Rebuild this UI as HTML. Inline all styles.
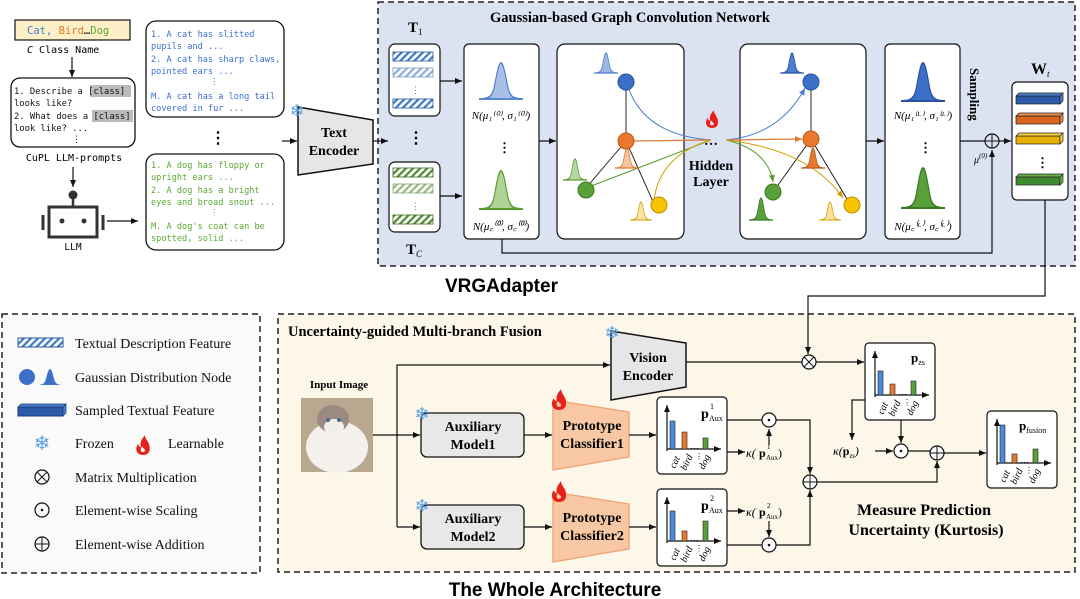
<!DOCTYPE html>
<html><head><meta charset="utf-8"><style>
body{margin:0;background:#fff}
svg{display:block}
.mono{font-family:"DejaVu Sans Mono","Liberation Mono",monospace}
.ser{font-family:"Liberation Serif",serif}
.sans{font-family:"Liberation Sans",sans-serif}
</style></head><body>
<svg width="1080" height="599" viewBox="0 0 1080 599" xmlns="http://www.w3.org/2000/svg">
<defs>
<marker id="ar" markerWidth="8" markerHeight="8" refX="7" refY="4" orient="auto" markerUnits="userSpaceOnUse"><path d="M0,1 L7,4 L0,7Z" fill="#111"/></marker>
<marker id="arB" markerWidth="8" markerHeight="8" refX="7" refY="4" orient="auto" markerUnits="userSpaceOnUse"><path d="M0,1 L7,4 L0,7Z" fill="#4a7fd0"/></marker>
<marker id="arO" markerWidth="8" markerHeight="8" refX="7" refY="4" orient="auto" markerUnits="userSpaceOnUse"><path d="M0,1 L7,4 L0,7Z" fill="#e07a30"/></marker>
<marker id="arG" markerWidth="8" markerHeight="8" refX="7" refY="4" orient="auto" markerUnits="userSpaceOnUse"><path d="M0,1 L7,4 L0,7Z" fill="#5a9a30"/></marker>
<marker id="arY" markerWidth="8" markerHeight="8" refX="7" refY="4" orient="auto" markerUnits="userSpaceOnUse"><path d="M0,1 L7,4 L0,7Z" fill="#d0a000"/></marker>
<pattern id="hb" width="5" height="5" patternUnits="userSpaceOnUse" patternTransform="rotate(45)"><rect width="5" height="5" fill="#fff"/><rect width="2.2" height="5" fill="#3c78c8"/></pattern>
<pattern id="hg" width="5" height="5" patternUnits="userSpaceOnUse" patternTransform="rotate(45)"><rect width="5" height="5" fill="#fff"/><rect width="2.2" height="5" fill="#4e8a30"/></pattern>
<path id="gs" d="M-1 0 C-0.6 0 -0.42 -0.04 -0.32 -0.3 C-0.2 -0.65 -0.12 -1 0 -1 C0.12 -1 0.2 -0.65 0.32 -0.3 C0.42 -0.04 0.6 0 1 0Z"/>
<path id="flame" d="M0 0 C-7 0 -9 -7 -5 -12 C-5 -9 -3 -8 -2 -9 C-4 -14 0 -18 2 -21 C2 -16 8 -13 7 -6 C7 -2 4 0 0 0Z M0 -3 C-3 -3 -3 -7 -1 -9 C0 -7 3 -6 2 -4Z" fill="#e8201a" fill-rule="evenodd"/>
<g id="chart">
<line x1="10" y1="54" x2="10" y2="8" stroke="#111" stroke-width="1.2" marker-end="url(#ar)"/>
<line x1="10" y1="52" x2="64" y2="52" stroke="#111" stroke-width="1.2" marker-end="url(#ar)"/>
<text x="33" y="52" font-size="9" class="ser">…</text>
<text class="ser" font-size="10" font-style="italic" transform="translate(18,72) rotate(-65)">cat</text>
<text class="ser" font-size="10" font-style="italic" transform="translate(29,74) rotate(-65)">bird</text>
<text class="ser" font-size="10" font-style="italic" transform="translate(47,73) rotate(-65)">dog</text>
<text x="38" y="62" font-size="8" class="ser">⋮</text>
</g>
</defs>

<!-- panels -->
<rect x="378" y="2" width="697" height="264" fill="#dbe3f3" stroke="#222" stroke-width="1.5" stroke-dasharray="6,4"/>
<rect x="278" y="314" width="797" height="258" fill="#fcf7e9" stroke="#222" stroke-width="1.5" stroke-dasharray="6,4"/>
<rect x="2" y="314" width="258" height="259" fill="#fafafa" stroke="#222" stroke-width="1.5" stroke-dasharray="6,4"/>

<!-- LEFT PART -->
<rect x="15" y="20" width="115" height="20" fill="#fdf0c8" stroke="#111" stroke-width="1.2"/>
<text x="27" y="34" font-size="10.5" class="mono"><tspan fill="#4a7fd0">Cat,</tspan> <tspan fill="#e07a30">Bird</tspan><tspan fill="#111">…</tspan><tspan fill="#5aa832">Dog</tspan></text>
<text x="27" y="53" font-size="10" class="mono"><tspan font-style="italic">C</tspan> Class Name</text>
<line x1="72" y1="57" x2="72" y2="77" stroke="#111" stroke-width="1.2" marker-end="url(#ar)"/>
<rect x="11" y="78" width="124" height="69" rx="9" fill="#fff" stroke="#111" stroke-width="1.3"/>
<rect x="90" y="85" width="41" height="12" fill="#bbb"/>
<rect x="92" y="110" width="41" height="12" fill="#bbb"/>
<text class="mono" font-size="8.8" fill="#111"><tspan x="14" y="94">1. Describe a [class]</tspan><tspan x="14" y="106">looks like?</tspan><tspan x="14" y="119">2. What does a [class]</tspan><tspan x="14" y="131">look like? ...</tspan><tspan x="72" y="142">⋮</tspan></text>
<text x="74" y="161" text-anchor="middle" font-size="10" class="mono">CuPL LLM-prompts</text>
<line x1="73" y1="167" x2="73" y2="187" stroke="#111" stroke-width="1.2" marker-end="url(#ar)"/>
<circle cx="73" cy="195" r="4.5" fill="#333"/>
<line x1="73" y1="199" x2="73" y2="206" stroke="#333" stroke-width="2.5"/>
<rect x="49" y="207" width="48" height="30" fill="#fff" stroke="#333" stroke-width="3"/>
<circle cx="62" cy="221" r="2.5" fill="#333"/><circle cx="84" cy="221" r="2.5" fill="#333"/>
<line x1="43" y1="215" x2="43" y2="230" stroke="#333" stroke-width="3"/>
<line x1="103" y1="215" x2="103" y2="230" stroke="#333" stroke-width="3"/>
<text x="73" y="250" text-anchor="middle" font-size="9.5" class="mono">LLM</text>
<line x1="107" y1="221" x2="138" y2="221" stroke="#111" stroke-width="1.2" marker-end="url(#ar)"/>

<rect x="146" y="21" width="138" height="96" rx="10" fill="#fff" stroke="#111" stroke-width="1.3"/>
<text class="mono" font-size="8.6" fill="#3a6fd0"><tspan x="151" y="37">1. A cat has slitted</tspan><tspan x="151" y="49">pupils and  ...</tspan><tspan x="151" y="62">2. A cat has sharp claws,</tspan><tspan x="151" y="74">pointed ears ...</tspan><tspan x="210" y="84">⋮</tspan><tspan x="151" y="99">M. A cat has a long tail</tspan><tspan x="151" y="111">covered in fur  ...</tspan></text>
<text x="210" y="143" font-size="16" class="ser" font-weight="bold">⋮</text>
<rect x="146" y="154" width="138" height="96" rx="10" fill="#fff" stroke="#111" stroke-width="1.3"/>
<text class="mono" font-size="8.6" fill="#5aa832"><tspan x="151" y="168">1. A dog has floppy or</tspan><tspan x="151" y="180">upright ears  ...</tspan><tspan x="151" y="193">2. A dog has a bright</tspan><tspan x="151" y="205">eyes and broad snout ...</tspan><tspan x="210" y="215">⋮</tspan><tspan x="151" y="229">M. A dog's coat can be</tspan><tspan x="151" y="241">spotted, solid  ...</tspan></text>
<line x1="282" y1="141" x2="297" y2="141" stroke="#111" stroke-width="1.2" marker-end="url(#ar)"/>
<path d="M298 107 L373 120 L373 164 L298 175Z" fill="#e6e6e6" stroke="#111" stroke-width="1.5"/>
<text x="297" y="117" font-size="18" fill="#5aa0e0" text-anchor="middle">❄</text>
<text class="ser" font-size="14" font-weight="bold" text-anchor="middle"><tspan x="334" y="137">Text</tspan><tspan x="334" y="155">Encoder</tspan></text>
<line x1="373" y1="141" x2="388" y2="141" stroke="#111" stroke-width="1.2" marker-end="url(#ar)"/>

<!-- TOP PANEL -->
<text x="630" y="22" text-anchor="middle" class="ser" font-size="14.5" font-weight="bold">Gaussian-based Graph Convolution Network</text>
<text x="408" y="32" class="ser" font-size="15" font-weight="bold">T<tspan font-size="9" dy="3" font-weight="normal">1</tspan></text>
<rect x="389" y="44" width="51" height="72" rx="6" fill="#fff" stroke="#111" stroke-width="1.2"/>
<g stroke="#2a5a9a" stroke-width="0.8"><rect x="393" y="52" width="40" height="9" fill="url(#hb)"/><rect x="393" y="68" width="40" height="9" fill="url(#hb)" opacity="0.6"/><rect x="393" y="99" width="40" height="9" fill="url(#hb)"/></g>
<text x="411" y="93" font-size="9" fill="#4a7fd0">⋮</text>
<text x="408" y="143" font-size="16" font-weight="bold" class="ser">⋮</text>
<rect x="389" y="162" width="51" height="70" rx="6" fill="#fff" stroke="#111" stroke-width="1.2"/>
<g stroke="#3a6a20" stroke-width="0.8"><rect x="393" y="168" width="40" height="9" fill="url(#hg)"/><rect x="393" y="184" width="40" height="9" fill="url(#hg)" opacity="0.6"/><rect x="393" y="215" width="40" height="9" fill="url(#hg)"/></g>
<text x="411" y="209" font-size="9" fill="#5aa832">⋮</text>
<text x="406" y="254" class="ser" font-size="15" font-weight="bold">T<tspan font-size="9" dy="3" font-style="italic" font-weight="normal">C</tspan></text>
<line x1="440" y1="81" x2="462" y2="81" stroke="#111" stroke-width="1.2" marker-end="url(#ar)"/>
<line x1="440" y1="196" x2="462" y2="196" stroke="#111" stroke-width="1.2" marker-end="url(#ar)"/>

<rect x="464" y="44" width="75" height="195" rx="5" fill="#fff" stroke="#111" stroke-width="1.2"/>
<use href="#gs" transform="translate(501,99) scale(22,36)" fill="#a8c0e6" stroke="#4a7fd0" stroke-width="0.05"/>
<use href="#gs" transform="translate(501,209) scale(22,38)" fill="#b0d498" stroke="#5a9a30" stroke-width="0.05"/>
<text x="501" y="119" text-anchor="middle" class="ser" font-size="11" font-style="italic">N(μ₁⁽⁰⁾, σ₁⁽⁰⁾)</text>
<text x="501" y="230" text-anchor="middle" class="ser" font-size="11" font-style="italic">N(μ꜀⁽⁰⁾, σ꜀⁽⁰⁾)</text>
<text x="498" y="152" font-size="13" class="ser" font-weight="bold">⋮</text>
<line x1="539" y1="141" x2="556" y2="141" stroke="#111" stroke-width="1.2" marker-end="url(#ar)"/>

<!-- graph 1 -->
<rect x="557" y="44" width="127" height="195" rx="8" fill="#fff" stroke="#111" stroke-width="1.2"/>
<g stroke="#111" stroke-width="0.9"><line x1="626" y1="80" x2="626" y2="141"/><line x1="626" y1="141" x2="586" y2="188"/><line x1="626" y1="141" x2="654" y2="204"/></g>
<path d="M626 80 Q640 135 711 140" fill="none" stroke="#4a7fd0" stroke-width="1"/>
<line x1="634" y1="141" x2="711" y2="140" stroke="#e07a30" stroke-width="1.2"/>
<line x1="586" y1="188" x2="711" y2="140" stroke="#5a9a30" stroke-width="1"/>
<path d="M654 200 Q660 155 711 140" fill="none" stroke="#d0a000" stroke-width="1"/>
<use href="#gs" transform="translate(606,73) scale(12,20)" fill="#9db8e0" stroke="#4a7fd0" stroke-width="0.06"/>
<use href="#gs" transform="translate(627,168) scale(12,20)" fill="#f4c4a0" stroke="#e07a30" stroke-width="0.06"/>
<use href="#gs" transform="translate(575,180) scale(12,21)" fill="#b8d8a0" stroke="#5a9a30" stroke-width="0.06"/>
<use href="#gs" transform="translate(641,220) scale(11,18)" fill="#fbe0a0" stroke="#d0a000" stroke-width="0.06"/>
<circle cx="626" cy="82" r="8" fill="#3c6fc8" stroke="#2a50a0"/>
<circle cx="626" cy="141" r="8" fill="#e8782e" stroke="#b85a1a"/>
<circle cx="586" cy="190" r="8" fill="#5aa03a" stroke="#3a7a20"/>
<circle cx="659" cy="205" r="8" fill="#f8c400" stroke="#c09000"/>

<use href="#flame" transform="translate(712,128) scale(0.85)"/>
<text x="711" y="145" text-anchor="middle" font-size="14" font-weight="bold" class="ser">…</text>
<text class="ser" font-size="14" font-weight="bold" text-anchor="middle"><tspan x="711" y="170">Hidden</tspan><tspan x="711" y="186">Layer</tspan></text>

<!-- graph 2 -->
<rect x="740" y="44" width="126" height="195" rx="8" fill="#fff" stroke="#111" stroke-width="1.2"/>
<g stroke="#111" stroke-width="0.9"><line x1="811" y1="84" x2="811" y2="139"/><line x1="811" y1="139" x2="773" y2="192"/><line x1="811" y1="139" x2="850" y2="204"/></g>
<path d="M726 140 Q780 135 805 88" fill="none" stroke="#4a7fd0" stroke-width="1" marker-end="url(#arB)"/>
<line x1="726" y1="140" x2="802" y2="139" stroke="#e07a30" stroke-width="1.2" marker-end="url(#arO)"/>
<path d="M726 140 Q768 150 773 182" fill="none" stroke="#5a9a30" stroke-width="1" marker-end="url(#arG)"/>
<path d="M726 140 Q810 150 843 198" fill="none" stroke="#d0a000" stroke-width="1" marker-end="url(#arY)"/>
<use href="#gs" transform="translate(792,73) scale(12,20)" fill="#4a7fd0" stroke="#2a50a0" stroke-width="0.06"/>
<use href="#gs" transform="translate(813,168) scale(12,20)" fill="#e8782e" stroke="#b85a1a" stroke-width="0.06"/>
<use href="#gs" transform="translate(761,220) scale(12,22)" fill="#5aa03a" stroke="#3a7a20" stroke-width="0.06"/>
<use href="#gs" transform="translate(830,220) scale(11,18)" fill="#fbe0a0" stroke="#d0a000" stroke-width="0.06"/>
<circle cx="811" cy="82" r="8" fill="#3c6fc8" stroke="#2a50a0"/>
<circle cx="811" cy="139" r="8" fill="#e8782e" stroke="#b85a1a"/>
<circle cx="773" cy="192" r="8" fill="#5aa03a" stroke="#3a7a20"/>
<circle cx="852" cy="205" r="8" fill="#f8c400" stroke="#c09000"/>
<line x1="866" y1="141" x2="884" y2="141" stroke="#111" stroke-width="1.2" marker-end="url(#ar)"/>

<rect x="885" y="44" width="75" height="195" rx="5" fill="#fff" stroke="#111" stroke-width="1.2"/>
<use href="#gs" transform="translate(923,101) scale(22,38)" fill="#3c6fc8" stroke="#2a50a0" stroke-width="0.05"/>
<use href="#gs" transform="translate(923,208) scale(22,40)" fill="#5aa03a" stroke="#3a7a20" stroke-width="0.05"/>
<text x="923" y="119" text-anchor="middle" class="ser" font-size="11" font-style="italic">N(μ₁⁽ᴸ⁾, σ₁⁽ᴸ⁾)</text>
<text x="923" y="230" text-anchor="middle" class="ser" font-size="11" font-style="italic">N(μ꜀⁽ᴸ⁾, σ꜀⁽ᴸ⁾)</text>
<text x="919" y="152" font-size="13" class="ser" font-weight="bold">⋮</text>
<line x1="960" y1="141" x2="985" y2="141" stroke="#111" stroke-width="1.2"/>
<circle cx="992" cy="141" r="7" fill="none" stroke="#111" stroke-width="1.2"/>
<line x1="985" y1="141" x2="999" y2="141" stroke="#111"/><line x1="992" y1="134" x2="992" y2="148" stroke="#111"/>
<line x1="999" y1="141" x2="1011" y2="141" stroke="#111" stroke-width="1.2" marker-end="url(#ar)"/>
<text transform="translate(970,68) rotate(90)" class="ser" font-size="13" font-weight="bold">Sampling</text>
<text x="974" y="163" class="ser" font-size="10" font-style="italic">μ<tspan font-size="7" dy="-5">(0)</tspan></text>
<polyline points="502,239 502,253 992,253 992,150" fill="none" stroke="#111" stroke-width="1.2" marker-end="url(#ar)"/>
<text x="1031" y="74" class="ser" font-size="16" font-weight="bold">W<tspan font-size="9" dy="3" font-style="italic" font-weight="normal">t</tspan></text>
<rect x="1012" y="82" width="56" height="118" rx="5" fill="#fff" stroke="#111" stroke-width="1.2"/>
<g stroke="#222" stroke-width="0.7">
<rect x="1016" y="96" width="44" height="8" fill="#2c5aa8"/><path d="M1016 96 L1019 93 L1063 93 L1060 96Z M1060 96 L1063 93 L1063 101 L1060 104Z" fill="#4a7fd0"/>
<rect x="1016" y="116" width="44" height="8" fill="#d8641e"/><path d="M1016 116 L1019 113 L1063 113 L1060 116Z M1060 116 L1063 113 L1063 121 L1060 124Z" fill="#f09050"/>
<rect x="1016" y="136" width="44" height="8" fill="#e8b000"/><path d="M1016 136 L1019 133 L1063 133 L1060 136Z M1060 136 L1063 133 L1063 141 L1060 144Z" fill="#f8d040"/>
<rect x="1016" y="177" width="44" height="8" fill="#3f8a2e"/><path d="M1016 177 L1019 174 L1063 174 L1060 177Z M1060 177 L1063 174 L1063 182 L1060 185Z" fill="#6ab04a"/>
</g>
<text x="1036" y="167" font-size="13" class="ser" font-weight="bold">⋮</text>
<text x="445" y="292" class="sans" font-size="19" font-weight="bold">VRGAdapter</text>

<!-- connector to bottom -->
<polyline points="1045,200 1045,296 808,296 808,354" fill="none" stroke="#111" stroke-width="1.2" marker-end="url(#ar)"/>

<!-- BOTTOM PANEL -->
<text x="288" y="336" class="ser" font-size="14.5" font-weight="bold">Uncertainty-guided Multi-branch Fusion</text>
<text x="339" y="388" text-anchor="middle" class="ser" font-size="11" font-weight="bold">Input Image</text>
<rect x="301" y="398" width="72" height="74" fill="#b8a890"/>
<ellipse cx="337" cy="447" rx="31" ry="26" fill="#f4f0ec"/>
<ellipse cx="333" cy="419" rx="16" ry="14" fill="#9a8a80"/>
<ellipse cx="334" cy="427" rx="10" ry="8" fill="#f2eeea"/>
<circle cx="328" cy="420" r="2" fill="#4a6a8a"/><circle cx="339" cy="420" r="2" fill="#4a6a8a"/>
<polyline points="373,435 397,435" fill="none" stroke="#111" stroke-width="1.2"/>
<polyline points="397,527 397,365 610,365" fill="none" stroke="#111" stroke-width="1.2" marker-end="url(#ar)"/>
<line x1="397" y1="435" x2="420" y2="435" stroke="#111" stroke-width="1.2" marker-end="url(#ar)"/>
<line x1="397" y1="527" x2="420" y2="527" stroke="#111" stroke-width="1.2" marker-end="url(#ar)"/>

<path d="M611 331 L686 343 L686 387 L611 400Z" fill="#e6e6e6" stroke="#111" stroke-width="1.5"/>
<text x="612" y="339" font-size="18" fill="#5aa0e0" text-anchor="middle">❄</text>
<text class="ser" font-size="14" font-weight="bold" text-anchor="middle"><tspan x="648" y="362">Vision</tspan><tspan x="648" y="380">Encoder</tspan></text>
<line x1="686" y1="362" x2="802" y2="362" stroke="#111" stroke-width="1.2"/>
<circle cx="809" cy="362" r="7" fill="#fff" stroke="#111" stroke-width="1.2"/>
<line x1="804" y1="357" x2="814" y2="367" stroke="#111"/><line x1="814" y1="357" x2="804" y2="367" stroke="#111"/>
<line x1="816" y1="362" x2="864" y2="362" stroke="#111" stroke-width="1.2" marker-end="url(#ar)"/>

<rect x="421" y="413" width="103" height="44" rx="6" fill="#e8e8e8" stroke="#111" stroke-width="1.3"/>
<text x="422" y="420" font-size="18" fill="#5aa0e0" text-anchor="middle">❄</text>
<text class="ser" font-size="14" font-weight="bold" text-anchor="middle"><tspan x="473" y="431">Auxiliary</tspan><tspan x="473" y="449">Model1</tspan></text>
<rect x="421" y="505" width="103" height="44" rx="6" fill="#e8e8e8" stroke="#111" stroke-width="1.3"/>
<text x="422" y="512" font-size="18" fill="#5aa0e0" text-anchor="middle">❄</text>
<text class="ser" font-size="14" font-weight="bold" text-anchor="middle"><tspan x="473" y="523">Auxiliary</tspan><tspan x="473" y="541">Model2</tspan></text>
<line x1="524" y1="435" x2="552" y2="435" stroke="#111" stroke-width="1.2" marker-end="url(#ar)"/>
<line x1="524" y1="527" x2="552" y2="527" stroke="#111" stroke-width="1.2" marker-end="url(#ar)"/>
<path d="M553 400 L629 412 L629 457 L553 470Z" fill="#f8c8a4" stroke="#f0a070" stroke-width="1.3"/>
<path d="M553 492 L629 504 L629 549 L553 562Z" fill="#f8c8a4" stroke="#f0a070" stroke-width="1.3"/>
<use href="#flame" transform="translate(559,410)"/>
<use href="#flame" transform="translate(559,502)"/>
<text class="ser" font-size="14" font-weight="bold" text-anchor="middle"><tspan x="592" y="430">Prototype</tspan><tspan x="592" y="448">Classifier1</tspan></text>
<text class="ser" font-size="14" font-weight="bold" text-anchor="middle"><tspan x="592" y="522">Prototype</tspan><tspan x="592" y="540">Classifier2</tspan></text>
<line x1="629" y1="435" x2="656" y2="435" stroke="#111" stroke-width="1.2" marker-end="url(#ar)"/>
<line x1="629" y1="527" x2="656" y2="527" stroke="#111" stroke-width="1.2" marker-end="url(#ar)"/>

<!-- charts -->
<g transform="translate(657,397)"><rect width="70" height="77" rx="4" fill="#fff" stroke="#111" stroke-width="1.2"/><use href="#chart"/>
<rect x="13" y="24" width="5" height="28" fill="#4a8ad8" stroke="#222" stroke-width="0.6"/><rect x="25" y="35" width="5" height="17" fill="#e8782e" stroke="#222" stroke-width="0.6"/><rect x="46" y="41" width="5" height="11" fill="#5aa03a" stroke="#222" stroke-width="0.6"/>
<text class="ser" font-weight="bold"><tspan x="44" y="21" font-size="14">p</tspan><tspan x="52" y="24" font-size="8" font-weight="normal">Aux</tspan><tspan x="53" y="12" font-size="8" font-weight="normal">1</tspan></text></g>
<g transform="translate(657,489)"><rect width="70" height="77" rx="4" fill="#fff" stroke="#111" stroke-width="1.2"/><use href="#chart"/>
<rect x="13" y="22" width="5" height="30" fill="#4a8ad8" stroke="#222" stroke-width="0.6"/><rect x="25" y="42" width="5" height="10" fill="#e8782e" stroke="#222" stroke-width="0.6"/><rect x="46" y="32" width="5" height="20" fill="#5aa03a" stroke="#222" stroke-width="0.6"/>
<text class="ser" font-weight="bold"><tspan x="44" y="21" font-size="14">p</tspan><tspan x="52" y="24" font-size="8" font-weight="normal">Aux</tspan><tspan x="53" y="12" font-size="8" font-weight="normal">2</tspan></text></g>
<g transform="translate(865,343)"><rect width="70" height="77" rx="4" fill="#fff" stroke="#111" stroke-width="1.2"/><use href="#chart"/>
<rect x="13" y="28" width="5" height="24" fill="#4a8ad8" stroke="#222" stroke-width="0.6"/><rect x="25" y="41" width="5" height="11" fill="#e8782e" stroke="#222" stroke-width="0.6"/><rect x="46" y="38" width="5" height="14" fill="#5aa03a" stroke="#222" stroke-width="0.6"/>
<text x="46" y="19" class="ser" font-size="13" font-weight="bold">p<tspan font-size="8" dy="3" font-weight="normal">zs</tspan></text></g>
<g transform="translate(987,411)"><rect width="70" height="77" rx="4" fill="#fff" stroke="#111" stroke-width="1.2"/><use href="#chart"/>
<rect x="13" y="14" width="5" height="38" fill="#4a8ad8" stroke="#222" stroke-width="0.6"/><rect x="25" y="43" width="5" height="9" fill="#e8782e" stroke="#222" stroke-width="0.6"/><rect x="46" y="38" width="5" height="14" fill="#5aa03a" stroke="#222" stroke-width="0.6"/>
<text x="32" y="19" class="ser" font-size="13" font-weight="bold">p<tspan font-size="8" dy="3" font-weight="normal">fusion</tspan></text></g>

<!-- fusion ops -->
<line x1="727" y1="420" x2="762" y2="420" stroke="#111" stroke-width="1.2"/>
<line x1="727" y1="452" x2="745" y2="452" stroke="#111" stroke-width="1.2" marker-end="url(#ar)"/>
<text class="ser" font-size="12"><tspan x="746" y="457" font-style="italic">κ(</tspan><tspan x="759" y="457" font-weight="bold">p</tspan><tspan x="766" y="460" font-size="7">Aux</tspan><tspan x="767" y="449" font-size="7">1</tspan><tspan x="778" y="457">)</tspan></text>
<line x1="769" y1="445" x2="769" y2="429" stroke="#111" stroke-width="1.2" marker-end="url(#ar)"/>
<circle cx="769" cy="420" r="7" fill="#fff" stroke="#111" stroke-width="1.2"/><circle cx="769" cy="420" r="1.3" fill="#111"/>
<polyline points="776,420 810,420 810,474" fill="none" stroke="#111" stroke-width="1.2" marker-end="url(#ar)"/>
<line x1="727" y1="511" x2="745" y2="511" stroke="#111" stroke-width="1.2" marker-end="url(#ar)"/>
<text class="ser" font-size="12"><tspan x="746" y="516" font-style="italic">κ(</tspan><tspan x="759" y="516" font-weight="bold">p</tspan><tspan x="766" y="519" font-size="7">Aux</tspan><tspan x="767" y="508" font-size="7">2</tspan><tspan x="778" y="516">)</tspan></text>
<line x1="769" y1="521" x2="769" y2="537" stroke="#111" stroke-width="1.2" marker-end="url(#ar)"/>
<line x1="727" y1="545" x2="762" y2="545" stroke="#111" stroke-width="1.2"/>
<circle cx="769" cy="545" r="7" fill="#fff" stroke="#111" stroke-width="1.2"/><circle cx="769" cy="545" r="1.3" fill="#111"/>
<polyline points="776,545 810,545 810,490" fill="none" stroke="#111" stroke-width="1.2" marker-end="url(#ar)"/>
<circle cx="810" cy="482" r="7" fill="#fff" stroke="#111" stroke-width="1.2"/>
<line x1="803" y1="482" x2="817" y2="482" stroke="#111"/><line x1="810" y1="475" x2="810" y2="489" stroke="#111"/>
<polyline points="817,482 937,482 937,461" fill="none" stroke="#111" stroke-width="1.2" marker-end="url(#ar)"/>
<polyline points="865,400 852,400 852,440" fill="none" stroke="#111" stroke-width="1.2" marker-end="url(#ar)"/>
<text x="833" y="455" class="ser" font-size="12" font-style="italic">κ(<tspan font-style="normal" font-weight="bold">p</tspan><tspan font-size="7" dy="3">zs</tspan><tspan dy="-3">)</tspan></text>
<line x1="875" y1="451" x2="893" y2="451" stroke="#111" stroke-width="1.2" marker-end="url(#ar)"/>
<line x1="901" y1="420" x2="901" y2="443" stroke="#111" stroke-width="1.2" marker-end="url(#ar)"/>
<circle cx="901" cy="451" r="7" fill="#fff" stroke="#111" stroke-width="1.2"/><circle cx="901" cy="451" r="1.3" fill="#111"/>
<line x1="908" y1="451" x2="930" y2="451" stroke="#111" stroke-width="1.2"/>
<circle cx="937" cy="453" r="7" fill="#fff" stroke="#111" stroke-width="1.2"/>
<line x1="930" y1="453" x2="944" y2="453" stroke="#111"/><line x1="937" y1="446" x2="937" y2="460" stroke="#111"/>
<line x1="944" y1="453" x2="986" y2="453" stroke="#111" stroke-width="1.2" marker-end="url(#ar)"/>
<text class="ser" font-size="16" font-weight="bold" text-anchor="middle"><tspan x="924" y="515">Measure Prediction</tspan><tspan x="926" y="535">Uncertainty (Kurtosis)</tspan></text>

<text x="555" y="596" text-anchor="middle" class="sans" font-size="19" font-weight="bold">The Whole Architecture</text>

<!-- LEGEND -->
<g class="ser" font-size="14" fill="#111">
<rect x="18" y="338" width="45" height="9" fill="url(#hb)" stroke="#2a5a9a"/>
<text x="75" y="348">Textual Description Feature</text>
<circle cx="27" cy="377" r="8" fill="#3c6fc8"/>
<use href="#gs" transform="translate(50,385) scale(14,16)" fill="#3c6fc8"/>
<text x="75" y="382">Gaussian Distribution Node</text>
<rect x="18" y="407" width="45" height="9" fill="#2c5aa8" stroke="#1a3a70"/><path d="M18 407 L21 404 L66 404 L63 407Z M63 407 L66 404 L66 413 L63 416Z" fill="#4a7fd0" stroke="#1a3a70" stroke-width="0.7"/>
<text x="75" y="415">Sampled Textual Feature</text>
<text x="42" y="450" font-size="20" fill="#5aa0e0" text-anchor="middle">❄</text>
<text x="75" y="448">Frozen</text>
<use href="#flame" transform="translate(143,455) scale(0.95)"/>
<text x="168" y="448">Learnable</text>
<circle cx="42" cy="477" r="7" fill="none" stroke="#111" stroke-width="1.2"/>
<line x1="37" y1="472" x2="47" y2="482" stroke="#111"/><line x1="47" y1="472" x2="37" y2="482" stroke="#111"/>
<text x="75" y="482">Matrix Multiplication</text>
<circle cx="42" cy="510" r="7" fill="none" stroke="#111" stroke-width="1.2"/><circle cx="42" cy="510" r="1.3" fill="#111"/>
<text x="75" y="515">Element-wise Scaling</text>
<circle cx="42" cy="544" r="7" fill="none" stroke="#111" stroke-width="1.2"/>
<line x1="35" y1="544" x2="49" y2="544" stroke="#111"/><line x1="42" y1="537" x2="42" y2="551" stroke="#111"/>
<text x="75" y="549">Element-wise Addition</text>
</g>
</svg>
</body></html>
